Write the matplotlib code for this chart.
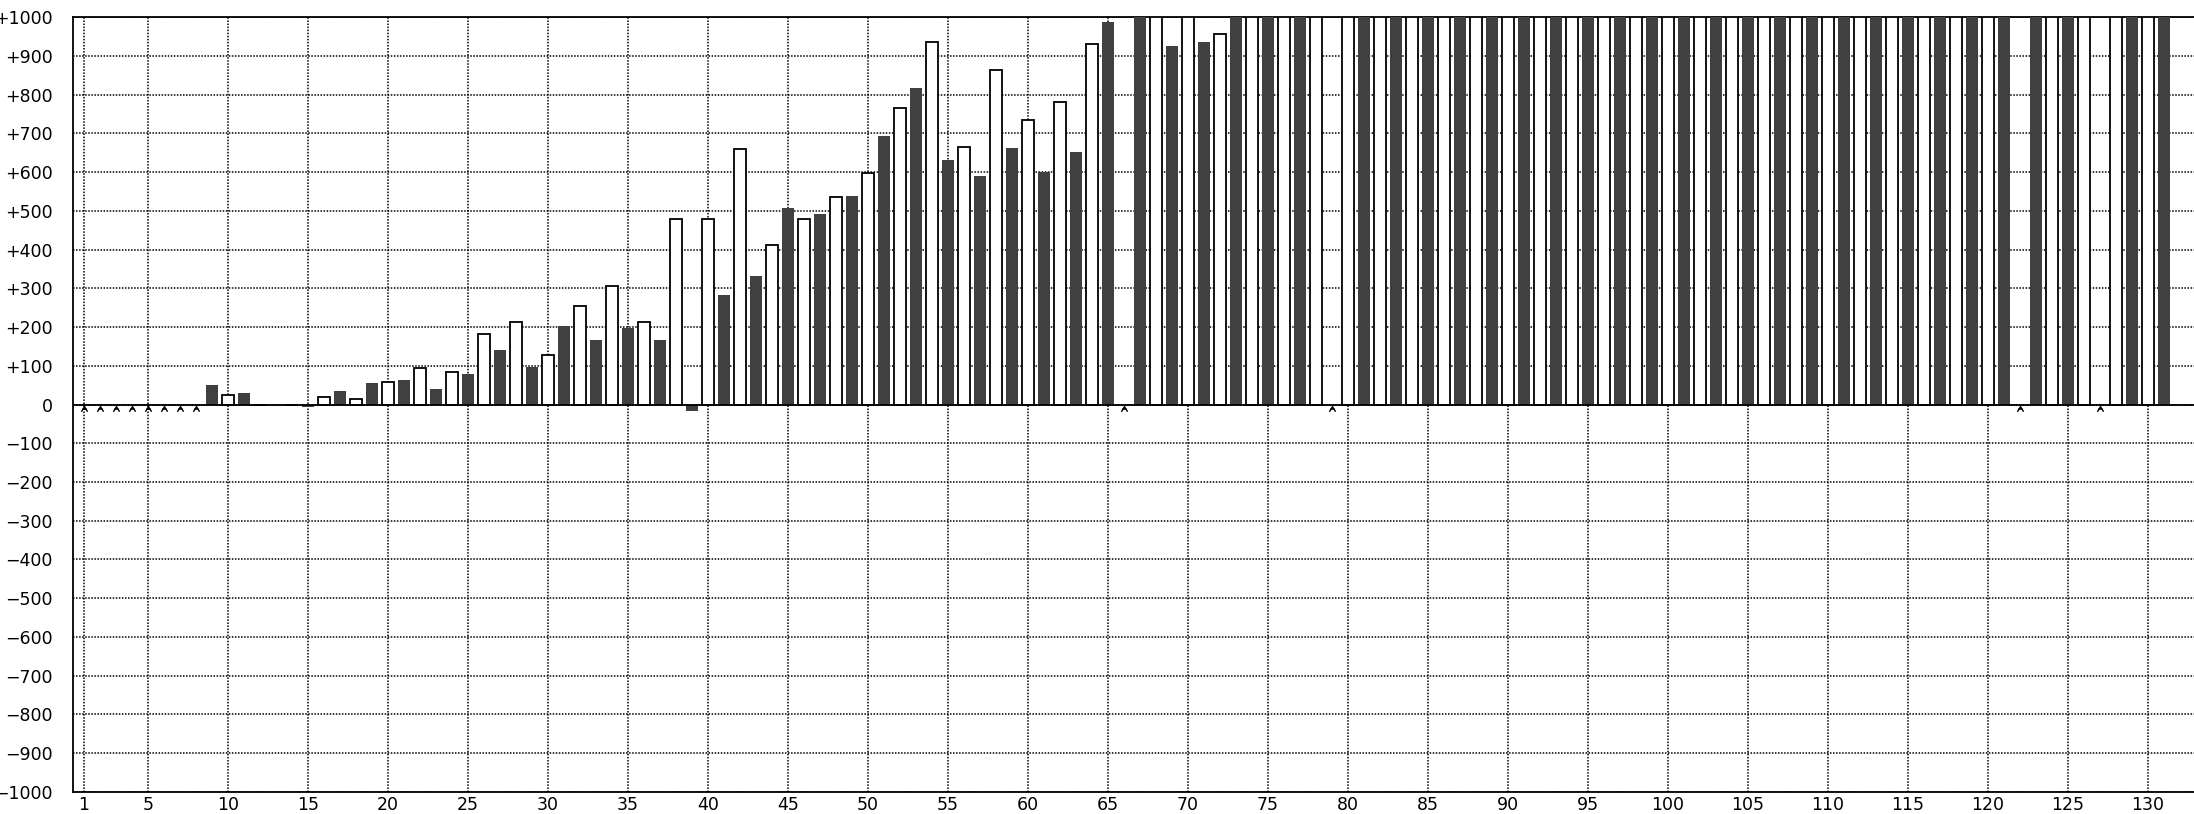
import numpy as np
import matplotlib
matplotlib.use("Agg")
import matplotlib.pyplot as plt
from matplotlib.path import Path

# ---------------- data ----------------
positions = list(range(1, 132))
# None = missing value (drawn as a small marker on the zero line)
values = [
    None, None, None, None, None, None, None, None,          # 1-8
    51, 24, 30, 0, 0, 0, -6, 20, 35, 14, 56, 57,             # 9-20
    62, 93, 41, 83, 78, 181, 140, 212, 98, 129,              # 21-30
    202, 254, 166, 305, 197, 212, 166, 480, -16, 480,        # 31-40
    284, 661, 331, 412, 507, 480, 491, 537, 538, 599,        # 41-50
    693, 765, 818, 936, 631, 666, 590, 863, 662, 734,        # 51-60
    600, 780, 652, 931, 989, None, 1000, 1000, 927, 1000,    # 61-70
    937, 957, 1000, 1000, 1000, 1000, 1000, 1000, None, 1000,  # 71-80
] + [1000] * 41 + [None, 1000, 1000, 1000, 1000, None, 1000, 1000, 1000, 1000]  # 81-131

x_ticks = [1] + list(range(5, 131, 5))
y_ticks = list(range(-1000, 1001, 100))


def fmt_y(v):
    if v > 0:
        return "+%d" % v
    if v < 0:
        return "\u2212%d" % (-v)
    return "0"


y_labels = [fmt_y(v) for v in y_ticks]

# ---------------- figure ----------------
W, H, DPI = 2194, 814, 100
fig = plt.figure(figsize=(W / DPI, H / DPI), dpi=DPI)
px_unit = 16.0          # pixels per x unit
x0_px = 67.7            # pixel position of x = 0
left_px, right_px = 73.3, W
top_px, bot_px = 17.3, 791.7
ax = fig.add_axes([left_px / W, 1 - bot_px / H,
                   (right_px - left_px) / W, (bot_px - top_px) / H])
ax.set_xlim((left_px - x0_px) / px_unit, (right_px - x0_px) / px_unit)
ax.set_ylim(-1000, 1000)

dark = "#404040"
pos = np.array(positions)
vals = np.array([np.nan if v is None else v for v in values], dtype=float)
odd = (pos % 2 == 1) & ~np.isnan(vals)
even = (pos % 2 == 0) & ~np.isnan(vals)

ax.bar(pos[odd], vals[odd], width=0.75, color=dark, edgecolor="none", zorder=3)
ax.bar(pos[even], vals[even], width=0.75, color="white", edgecolor="black",
       linewidth=1.3, zorder=3)

# missing-value markers
mverts = [(0, 0.15), (0, -0.2),
          (-0.5, -1.0), (0, -0.2), (0.5, -1.0),
          (-0.3, -0.55), (0.3, -0.55)]
mcodes = [Path.MOVETO, Path.LINETO,
          Path.MOVETO, Path.LINETO, Path.LINETO,
          Path.MOVETO, Path.LINETO]
mpath = Path(mverts, mcodes)
missing = pos[np.isnan(vals)]
ax.plot(missing, np.zeros(len(missing)), linestyle="none", marker=mpath,
        markersize=9, markeredgewidth=1.0, markeredgecolor="black",
        markerfacecolor="none", zorder=6, clip_on=False)

ax.axhline(0, color="black", linewidth=1.3, zorder=5)

# grid
ax.set_axisbelow(True)
ax.set_xticks(x_ticks)
ax.set_xticklabels([str(t) for t in x_ticks])
ax.set_yticks(y_ticks)
ax.set_yticklabels(y_labels)
ax.grid(True, which="major", color="black", linewidth=1.1,
        linestyle=(0, (1, 1.0)), zorder=0)

ax.tick_params(axis="both", length=0, labelsize=12.5, colors="black")
ax.tick_params(axis="y", pad=15)
ax.tick_params(axis="x", pad=3)
for lab in ax.get_yticklabels() + ax.get_xticklabels():
    lab.set_fontfamily("DejaVu Sans")

for side in ["left", "bottom", "top"]:
    ax.spines[side].set_linewidth(1.3)
    ax.spines[side].set_color("black")
ax.spines["right"].set_visible(False)

fig.savefig("out.png", dpi=DPI)
